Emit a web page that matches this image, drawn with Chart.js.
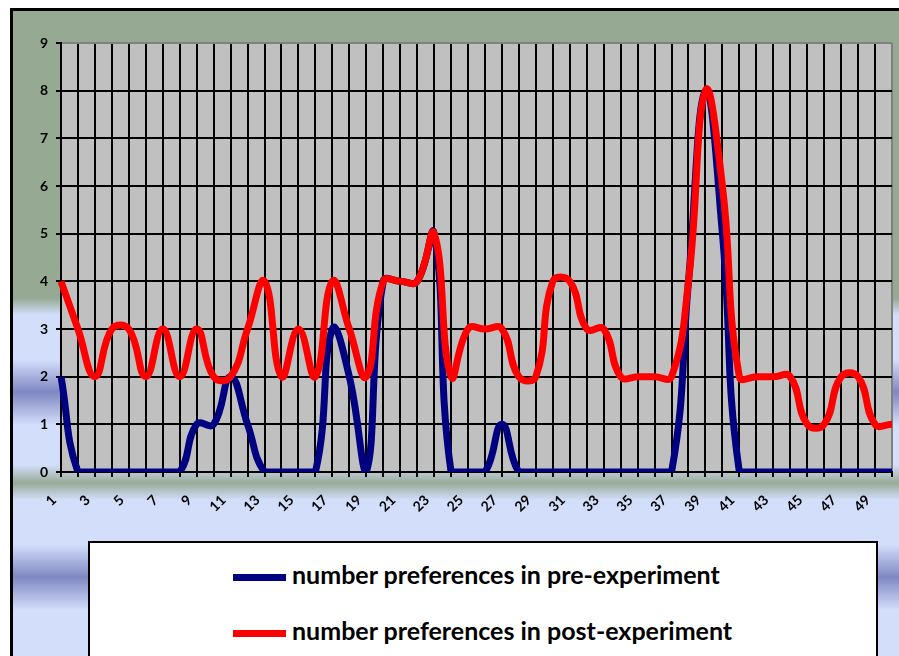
<!DOCTYPE html>
<html>
<head>
<meta charset="utf-8">
<script src="https://cdn.jsdelivr.net/npm/chart.js@4.4.1/dist/chart.umd.min.js"></script>
<style>
  html, body { margin: 0; padding: 0; width: 899px; height: 656px; overflow: hidden; background: #fff; }
  #frame {
    position: absolute; left: 10px; top: 8px; width: 1000px; height: 800px;
    border: 3px solid #000;
    background: linear-gradient(to bottom,
      #95a993 0px, #95a993 287px, #d3defb 304px, #d3defb 349px, #7f87c1 381px,
      #d3defb 414px, #d3defb 454px, #98ab97 472px, #d3defb 489px, #d3defb 534px,
      #7f87c1 566px, #d3defb 599px, #d3defb 800px);
  }
  #wrap { position: absolute; left: 0; top: 0; width: 899px; height: 656px; }
  #legend {
    position: absolute; left: 88px; top: 541px; width: 786px; height: 200px;
    background: #fff; border: 2px solid #000;
    font-family: Lato, sans-serif; font-weight: bold; font-size: 25px; line-height: 30px; color: #000;
  }
  .item { position: absolute; left: 143px; white-space: nowrap; }
  .item i { display: inline-block; width: 53px; height: 7px; margin-right: 6px; vertical-align: middle; }
</style>
</head>
<body>
<div id="frame"></div>
<div id="wrap"><canvas id="chart"></canvas></div>
<div id="legend">
  <div class="item" style="top:16px"><i style="background:#000080"></i>number preferences in pre-experiment</div>
  <div class="item" style="top:72px"><i style="background:#ff0000"></i>number preferences in post-experiment</div>
</div>
<script>
// categories 1..50
const categories = ['1','2','3','4','5','6','7','8','9','10','11','12','13','14','15','16','17','18','19','20',
  '21','22','23','24','25','26','27','28','29','30','31','32','33','34','35','36','37','38','39','40',
  '41','42','43','44','45','46','47','48','49','50'];

const preExperiment = [2,0,0,0,0,0,0,0,1,1, 2,1,0,0,0,0,3,2,0,4, 4,4,5,0,0,0,1,0,0,0,
  0,0,0,0,0,0,0,4,8,5, 0,0,0,0,0,0,0,0,0,0];
const postExperiment = [4,3,2,3,3,2,3,2,3,2, 2,3,4,2,3,2,4,3,2,4, 4,4,5,2,3,3,3,2,2,4,
  4,3,3,2,2,2,2,4,8,6, 2,2,2,2,1,1,2,2,1,1];

const yTicks = [0,1,2,3,4,5,6,7,8,9];

const tickFont = { family: 'Lato, sans-serif', size: 14, weight: 'bold' };

const plotBg = {
  id: 'plotBg',
  beforeDraw(chart) {
    const { ctx, chartArea: a } = chart;
    ctx.save();
    ctx.fillStyle = '#c0c0c0';
    ctx.fillRect(a.left, a.top, a.right - a.left, a.bottom - a.top);
    ctx.restore();
  }
};

new Chart(document.getElementById('chart'), {
  type: 'line',
  data: {
    labels: categories,
    datasets: [
      { label: 'number preferences in pre-experiment', data: preExperiment, borderColor: '#000080',
        borderWidth: 7, tension: 0.45, pointRadius: 0, order: 1 },
      { label: 'number preferences in post-experiment', data: postExperiment, borderColor: '#ff0000',
        borderWidth: 7, tension: 0.45, pointRadius: 0, order: 0 }
    ]
  },
  options: {
    responsive: true,
    maintainAspectRatio: false,
    animation: false,
    layout: { padding: { top: 43, right: 7, left: 0, bottom: 0 } },
    plugins: { legend: { display: false }, tooltip: { enabled: false } },
    scales: {
      x: {
        afterFit: s => { s.height = 184; s.paddingLeft = 0; s.paddingRight = 0; },
        grid: { color: c => c.index === categories.length - 1 ? '#808080' : '#000', tickColor: '#000', lineWidth: 2, tickLength: 5 },
        border: { color: '#000', width: 2 },
        ticks: {
          color: '#000', font: tickFont, autoSkip: false, maxRotation: 45, minRotation: 45,
          padding: 15, labelOffset: -7,
          callback: (v, i) => i % 2 === 0 ? categories[i] : ''
        }
      },
      y: {
        min: 0, max: 9,
        afterFit: s => { s.width = 61; s.paddingTop = 0; s.paddingBottom = 0; },
        afterBuildTicks: s => { s.ticks = yTicks.map(v => ({ value: v })); },
        grid: { color: c => c.tick.value === 9 ? '#808080' : '#000', tickColor: '#000', lineWidth: 2, tickLength: 5 },
        border: { color: '#000', width: 2 },
        ticks: { color: '#000', font: tickFont, padding: 8 }
      }
    }
  },
  plugins: [plotBg]
});
</script>
</body>
</html>
